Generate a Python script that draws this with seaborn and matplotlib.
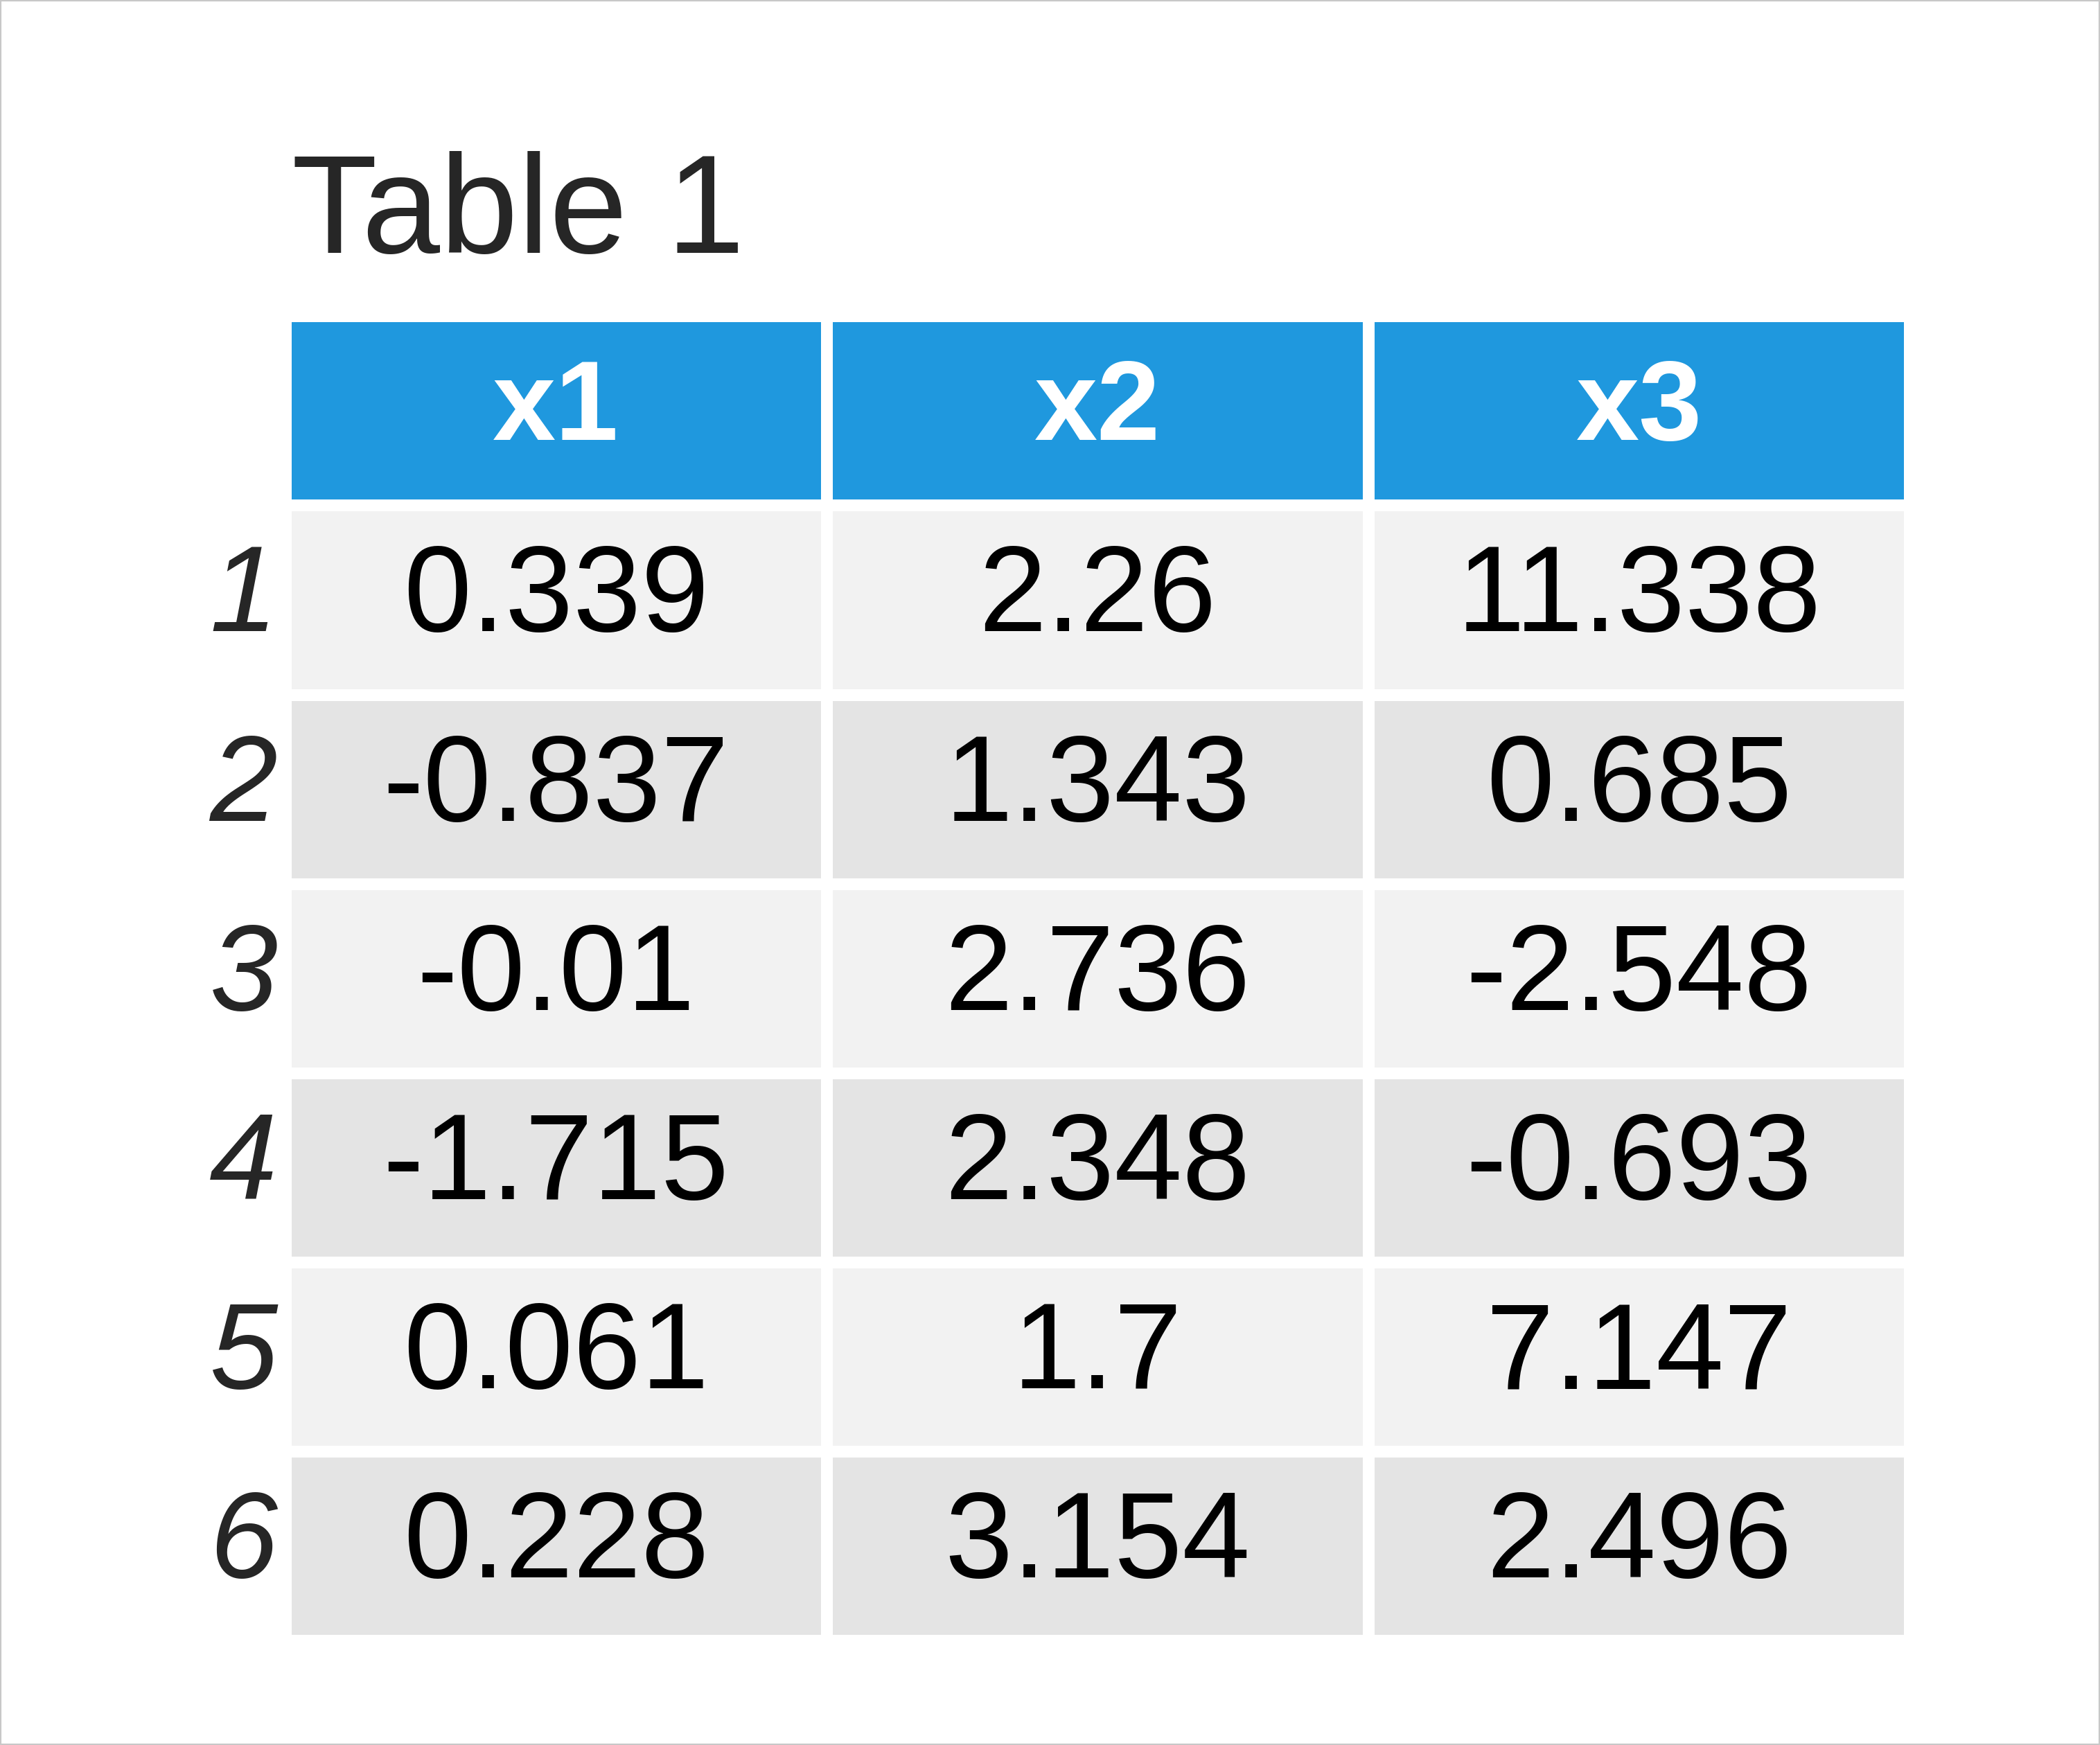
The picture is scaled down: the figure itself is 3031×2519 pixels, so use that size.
import numpy as np
import pandas as pd
import seaborn as sns
from matplotlib import pyplot as plt
from matplotlib.colors import ListedColormap
from matplotlib.patches import Rectangle

columns = ["x1", "x2", "x3"]
row_labels = ["1", "2", "3", "4", "5", "6"]
x1 = [0.339, -0.837, -0.01, -1.715, 0.061, 0.228]
x2 = [2.26, 1.343, 2.736, 2.348, 1.7, 3.154]
x3 = [11.338, 0.685, -2.548, -0.693, 7.147, 2.496]

sns.set_theme(style="white")
plt.rcParams['font.family'] = ['Liberation Sans', 'DejaVu Sans']

# shading: 0 = header, 1 = light row, 2 = darker row
shade = np.array([[0, 0, 0]] + [[1 + (i % 2)] * 3 for i in range(len(row_labels))])
texts = [columns] + [[f"{a:g}", f"{b:g}", f"{c:g}"] for a, b, c in zip(x1, x2, x3)]

fig = plt.figure(figsize=(30.31, 25.19), dpi=100)
ax = fig.add_axes([0.1358, 0.0598, 0.7736, 0.7591])
cmap = ListedColormap(["#1f98de", "#f2f2f2", "#e4e4e4"])
sns.heatmap(pd.DataFrame(shade), ax=ax, cmap=cmap, vmin=-0.5, vmax=2.5,
            cbar=False, linewidths=11, linecolor="white",
            annot=np.array(texts), fmt="", annot_kws={"size": 127, "color": "black"})

for t in ax.texts[:3]:
    t.set_color("white")
    t.set_fontweight("bold")
    t.set_fontsize(118)

ax.set_xticks([])
ax.set_yticks(np.arange(len(row_labels) + 1) + 0.5)
ax.set_yticklabels([""] + row_labels, fontsize=127, style="italic", rotation=0)
ax.tick_params(axis="y", length=0, pad=8)
ax.set_xlabel("")
ax.set_ylabel("")

fig.text(0.139, 0.855, "Table 1", fontsize=146, ha="left", va="baseline")
fig.patches.append(Rectangle((0, 0), 1, 1, transform=fig.transFigure,
                             fill=False, edgecolor="#c8c8c8", linewidth=3))
fig.savefig("out.png", dpi=100)
